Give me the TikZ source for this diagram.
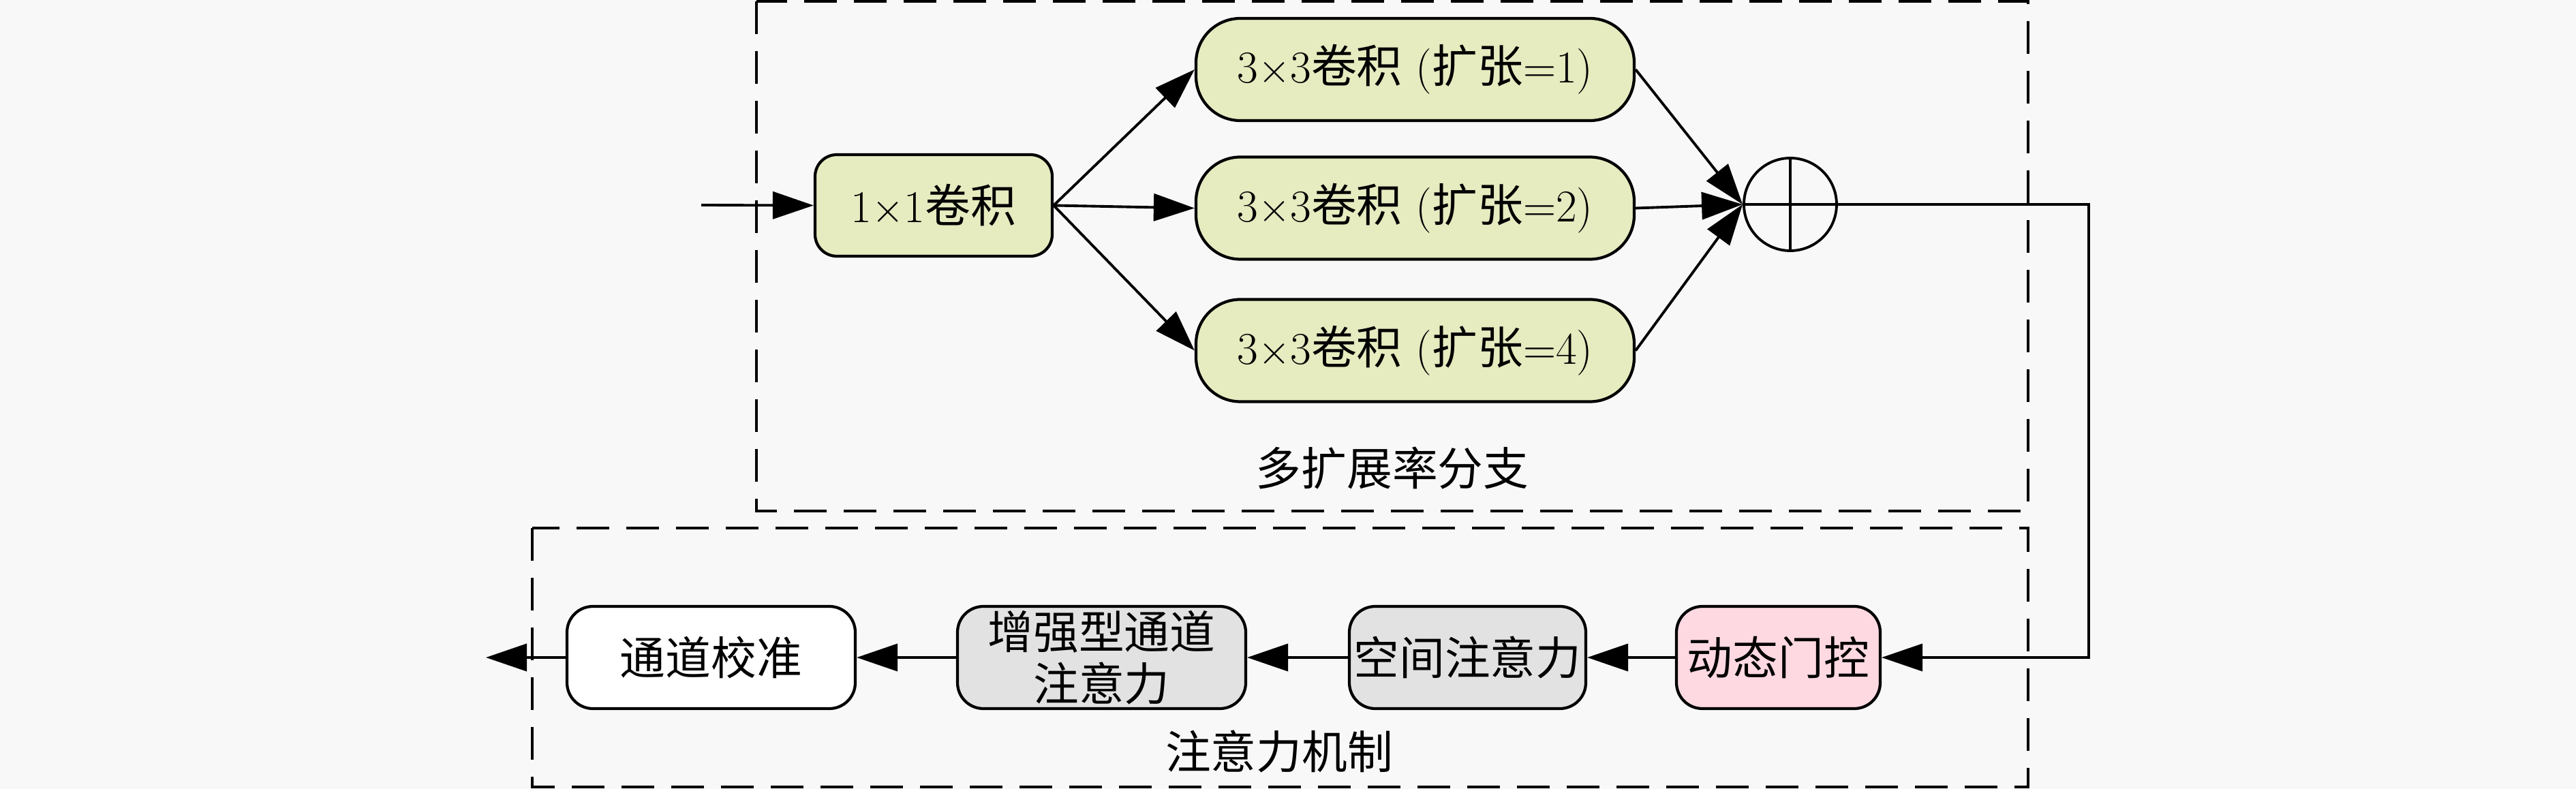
\documentclass[tikz,border=0pt]{standalone}
\usepackage{fontspec}
\newfontfamily\cjk{Noto Sans CJK SC}
\usetikzlibrary{arrows.meta}
\definecolor{bgc}{HTML}{F8F8F8}
\definecolor{greenc}{HTML}{E6EBC0}
\definecolor{grayc}{HTML}{E2E2E2}
\definecolor{pinkc}{HTML}{FFD9E2}
\tikzset{
  box/.style={draw=black, line width=1.2pt, inner sep=0pt, align=center,
    font=\fontsize{19}{21.6}\selectfont},
  conv/.style={box, fill=greenc, minimum width=6.43cm, minimum height=1.50cm, rounded corners=0.65cm},
  conva/.style={box, fill=greenc, minimum width=3.48cm, minimum height=1.49cm, rounded corners=0.32cm},
  att/.style={box, minimum height=1.50cm, rounded corners=0.38cm},
  conn/.style={line width=1.1pt, -{Triangle[length=0.6cm,width=0.4cm]}},
  plainline/.style={line width=1.1pt},
  frame/.style={line width=1.2pt, dash pattern=on 0.48cm off 0.25cm},
  lbl/.style={inner sep=0pt, font=\fontsize{19}{21.6}\selectfont\cjk}
}
\begin{document}
\begin{tikzpicture}
\fill[bgc] (0,0) rectangle (37.8,-11.58);
\useasboundingbox (0,0) rectangle (37.8,-11.58);
% frames
\draw[frame] (11.10,-0.02) rectangle (29.76,-7.50);
\draw[frame] (7.81,-7.75) rectangle (29.76,-11.55);
\node[lbl] (lab1) at (20.43,-6.87) {多扩展率分支};
\node[lbl] (lab2) at (18.77,-11.03) {注意力机制};
% top nodes
\coordinate (inp) at (10.29,-3.01);
\node[conva] (c11) at (13.70,-3.015) {1$\times$1{\cjk 卷积}};
\node[conv] (d1) at (20.765,-1.02) {3$\times$3{\cjk 卷积} ({\cjk 扩张}=1)};
\node[conv] (d2) at (20.765,-3.055) {3$\times$3{\cjk 卷积} ({\cjk 扩张}=2)};
\node[conv] (d4) at (20.765,-5.145) {3$\times$3{\cjk 卷积} ({\cjk 扩张}=4)};
\node[draw=black, line width=1.1pt, circle, minimum size=1.36cm, inner sep=0pt] (sum) at (26.27,-3.00) {};
\draw[plainline] (sum.north) -- (sum.south) (sum.west) -- (sum.east);
% bottom nodes
\node[att, fill=pinkc, minimum width=2.99cm, font=\fontsize{19}{21.6}\selectfont\cjk] (gate) at (26.095,-9.65) {动态门控};
\node[att, fill=grayc, minimum width=3.47cm, font=\fontsize{19}{21.6}\selectfont\cjk] (spa) at (21.535,-9.65) {空间注意力};
\node[att, fill=grayc, minimum width=4.23cm, font=\fontsize{19}{21.6}\selectfont\cjk] (enh) at (16.165,-9.65) {增强型通道\\注意力};
\node[att, fill=white, minimum width=4.23cm, font=\fontsize{19}{21.6}\selectfont\cjk] (cal) at (10.435,-9.65) {通道校准};
\coordinate (outp) at (7.13,-9.65);
\coordinate (turn1) at (30.65,-3.00);
\coordinate (turn2) at (30.65,-9.65);
% connectors
\draw[conn] (inp) -- (c11.west);
\draw[conn] (c11.east) -- (d1.west);
\draw[conn] (c11.east) -- (d2.west);
\draw[conn] (c11.east) -- (d4.west);
\draw[conn] (d1.east) -- (sum.west);
\draw[conn] (d2.east) -- (sum.west);
\draw[conn] (d4.east) -- (sum.west);
\draw[conn] (sum.east) -- (turn1) -- (turn2) -- (gate.east);
\draw[conn] (gate.west) -- (spa.east);
\draw[conn] (spa.west) -- (enh.east);
\draw[conn] (enh.west) -- (cal.east);
\draw[conn] (cal.west) -- (outp);
\end{tikzpicture}
\end{document}
